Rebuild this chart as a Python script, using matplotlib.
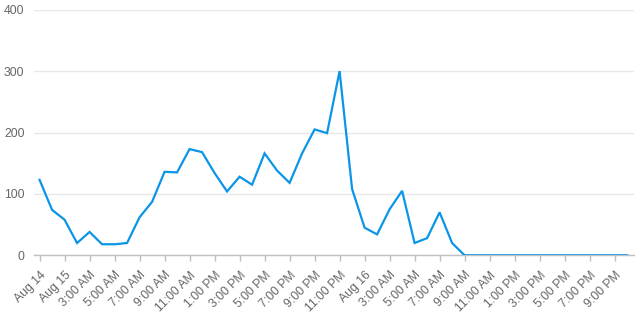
import numpy as np
import matplotlib
matplotlib.use('Agg')
import matplotlib.pyplot as plt

plt.rcParams['font.family'] = ['Liberation Sans', 'DejaVu Sans']

# hourly counts, first point = 11 PM Aug 14
values = [123, 74, 58, 20, 38, 18, 18, 20, 62, 87,
          136, 135, 173, 168, 134, 104, 128, 115, 166, 138,
          118, 166, 205, 199, 300, 108, 45, 34, 75, 105,
          20, 28, 70, 20, 0, 0, 0, 0, 0, 0,
          0, 0, 0, 0, 0, 0, 0, 0]
tick_labels = ['Aug 14', 'Aug 15', '3:00 AM', '5:00 AM', '7:00 AM', '9:00 AM',
               '11:00 AM', '1:00 PM', '3:00 PM', '5:00 PM', '7:00 PM', '9:00 PM',
               '11:00 PM', 'Aug 16', '3:00 AM', '5:00 AM', '7:00 AM', '9:00 AM',
               '11:00 AM', '1:00 PM', '3:00 PM', '5:00 PM', '7:00 PM', '9:00 PM']
y_ticks = [0, 100, 200, 300, 400]

line_col = '#0a95e8'
txt_col = '#666666'
axis_col = '#c0c0c0'
grid_col = '#e8e8e8'

hours = np.arange(len(values))

fig = plt.figure(figsize=(6.44, 3.28), dpi=100)
ax = fig.add_axes([34.3/644, 1 - 255.3/328, (634 - 34.3)/644, (255.3 - 9.7)/328])

ax.plot(hours, values, color=line_col, lw=1.6, solid_joinstyle='miter', zorder=3)

ax.set_xlim(-0.42, 47.55)
ax.set_ylim(0, 400)
ax.set_yticks(y_ticks)
ax.set_yticklabels([str(v) for v in y_ticks])
ax.set_xticks(np.arange(len(tick_labels)) * 2)
ax.set_xticklabels(tick_labels, rotation=45, ha='right', va='top', rotation_mode='anchor')

ax.grid(axis='y', color=grid_col, lw=1)
ax.set_axisbelow(True)
for s in ['top', 'right', 'left']:
    ax.spines[s].set_visible(False)
ax.spines['bottom'].set_color(axis_col)
ax.spines['bottom'].set_linewidth(1)

ax.tick_params(axis='y', length=0, pad=7, labelcolor=txt_col, labelsize=8.8)
ax.tick_params(axis='x', length=4, width=1, color=axis_col, pad=6, labelcolor=txt_col, labelsize=8.8)

fig.savefig('out.png', dpi=100)
